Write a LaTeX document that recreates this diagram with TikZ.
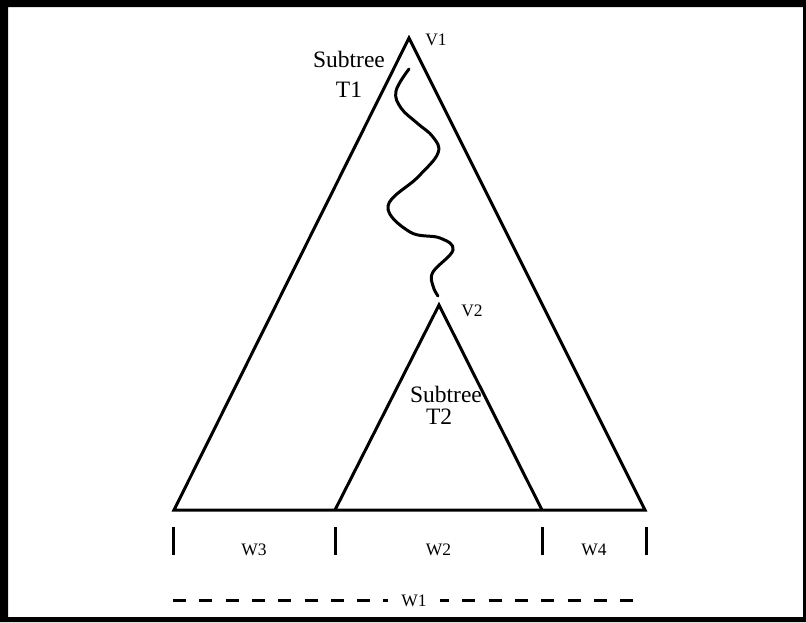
\documentclass[tikz,border=0pt]{standalone}
\usepackage{fontspec}
\setmainfont{Liberation Serif}
\usepackage{tikz}
\usetikzlibrary{calc}

\begin{document}
\begin{tikzpicture}[x=1pt,y=-1pt,line width=3pt,
  edge/.style={draw=black,line join=miter},
  tick/.style={draw=black,line width=3pt},
  lbl/.style={font=\fontsize{17.5}{19}\selectfont,inner sep=1pt},
  sub/.style={font=\fontsize{23.5}{30}\selectfont,align=center,inner sep=0pt}]
\useasboundingbox (0,0) rectangle (806,622);
\fill[even odd rule] (0,0) rectangle (806,622) (8,7) rectangle (803,617);
\coordinate (v1) at (409,38);
\coordinate (v2) at (439,305);
\coordinate (bl) at (174,510);
\coordinate (br) at (645,510);
\coordinate (il) at (335,510);
\coordinate (ir) at (542,510);
\draw[edge] (bl) -- (v1) -- (br) -- cycle;
\draw[edge] (il) -- (v2) -- (ir);
\node[lbl] (lv1) at (436,40) {V1};
\node[lbl] (lv2) at (472,311) {V2};
\node[sub] (t1) at (349,74) {Subtree\\T1};
\node[sub,align=left,font=\fontsize{23.5}{22}\selectfont] (t2) at (446,405) {Subtree\\\hspace*{16pt}T2};
\draw[line cap=round] plot[smooth,tension=0.65] coordinates {(409,69) (396,91) (401,108) (417,123) (433,137) (438,153) (418,177) (388,206) (410,232) (440,238) (453,250) (433,272) (433,286) (438,296)};
\foreach \x/\n in {173/a,335/b,542/c,646/d}
  \draw[tick] (\x,527) coordinate (\n1) -- (\x,555) coordinate (\n2);
\node[lbl,yshift=-9pt] (w3) at ($(a1)!0.5!(b2)$) {W3};
\node[lbl,yshift=-9pt] (w2) at ($(b1)!0.5!(c2)$) {W2};
\node[lbl,yshift=-9pt] (w4) at ($(c1)!0.5!(d2)$) {W4};
\coordinate (dl) at (173,600);
\coordinate (dr) at (635,600);
\draw[dash pattern=on 13pt off 13.3pt] (dl) -- (dr);
\node[lbl,fill=white,inner xsep=13pt,inner ysep=4pt] (w1) at (414,601) {W1};
\end{tikzpicture}
\end{document}
